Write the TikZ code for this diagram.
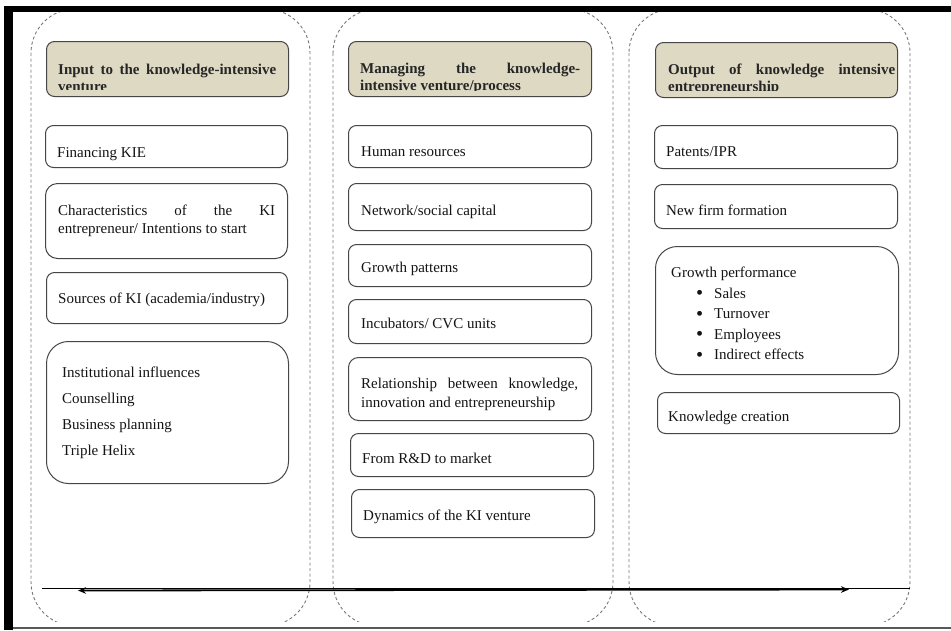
\documentclass[tikz,border=0pt]{standalone}
\usepackage{fontspec}
\setmainfont{Liberation Serif}
\usetikzlibrary{arrows.meta}
\definecolor{headtan}{RGB}{221,217,195}
\definecolor{boxline}{RGB}{70,70,70}
\definecolor{dashgray}{RGB}{120,120,120}
\newcommand{\blt}{\makebox[18pt][l]{\raisebox{-1.6pt}{\scalebox{1.35}{•}}}}
\tikzset{
  colframe/.style={draw=dashgray, line width=0.9pt, dash pattern=on 3pt off 2.5pt, rounded corners=44pt},
  box/.style={draw=boxline, line width=1pt, rounded corners=8pt, inner sep=0pt, anchor=north west},
  headbox/.style={box, fill=headtan},
  txt/.style={anchor=base west, inner sep=0pt, text=black!92, font=\fontsize{15}{18.5}\selectfont},
  headtxt/.style={txt, text=black!85, font=\bfseries\fontsize{15}{17.3}\selectfont},
}
\begin{document}
\begin{tikzpicture}[x=1pt, y=-1pt]
  \useasboundingbox (0,0) rectangle (951,630);
  \fill[white] (0,0) rectangle (951,630);

  % dashed column frames, open at top and bottom
  \begin{scope}
    \clip (0,12) rectangle (951,621);
    \draw[colframe] (31,9) rectangle (310,626);
    \draw[colframe] (333,9) rectangle (613,626);
    \draw[colframe] (629,9) rectangle (910,626);
  \end{scope}

  % ---------- column 1: inputs ----------
  \node[headbox, minimum width=242pt, minimum height=55pt] (h1) at (46,41) {};
  \begin{scope}
    \clip (47,42) rectangle (287,89);
    \node[headtxt] (h1t) at (58,74) {\vtop{\hbox{\makebox[218pt][s]{Input to the knowledge-intensive}}\hbox{venture}}};
  \end{scope}

  \node[box, minimum width=242pt, minimum height=42pt] (fin) at (45,125) {};
  \node[txt] (fint) at (57,157) {Financing KIE};

  \node[box, rounded corners=12pt, minimum width=242pt, minimum height=75pt] (chr) at (45,183) {};
  \node[txt] (chrt) at (58,215) {\vtop{\hbox{\makebox[217pt][s]{Characteristics of the KI}}\hbox{entrepreneur/ Intentions to start}}};

  \node[box, minimum width=241pt, minimum height=51pt] (src) at (46,272) {};
  \node[txt] (srct) at (58,303) {Sources of KI (academia/industry)};

  \node[box, rounded corners=22pt, minimum width=242pt, minimum height=142pt] (ins) at (46,341) {};
  \node[txt, font=\fontsize{15}{26.3}\selectfont] (inst) at (62,377)
    {\vtop{\hbox{Institutional influences}\hbox{Counselling}\hbox{Business planning}\hbox{Triple Helix}}};

  % ---------- column 2: managing ----------
  \node[headbox, minimum width=243pt, minimum height=55pt] (h2) at (348,41) {};
  \begin{scope}
    \clip (349,42) rectangle (590,90);
    \node[headtxt] (h2t) at (360,73) {\vtop{\hbox{\makebox[220pt][s]{Managing the knowledge-}}\hbox{intensive venture/process}}};
  \end{scope}

  \node[box, minimum width=243pt, minimum height=42pt] (hr) at (348,125) {};
  \node[txt] (hrt) at (361,156) {Human resources};

  \node[box, minimum width=243pt, minimum height=47pt] (net) at (348,183) {};
  \node[txt] (nett) at (361,215) {Network/social capital};

  \node[box, minimum width=243pt, minimum height=42pt] (gp) at (348,244) {};
  \node[txt] (gpt) at (361,272) {Growth patterns};

  \node[box, minimum width=243pt, minimum height=44pt] (inc) at (348,299) {};
  \node[txt] (inct) at (361,328) {Incubators/ CVC units};

  \node[box, rounded corners=10pt, minimum width=243pt, minimum height=63pt] (rel) at (348,357) {};
  \node[txt, font=\fontsize{15}{19.5}\selectfont] (relt) at (361,388)
    {\vtop{\hbox{\makebox[217pt][s]{Relationship between knowledge,}}\hbox{innovation and entrepreneurship}}};

  \node[box, minimum width=243pt, minimum height=43pt] (rd) at (350,433) {};
  \node[txt] (rdt) at (362,463) {From R\&D to market};

  \node[box, minimum width=243pt, minimum height=48pt] (dyn) at (351,489) {};
  \node[txt] (dynt) at (363,520) {Dynamics of the KI venture};

  % ---------- column 3: outputs ----------
  \node[headbox, minimum width=242pt, minimum height=55pt] (h3) at (655,42) {};
  \begin{scope}
    \clip (656,43) rectangle (896,90.5);
    \node[headtxt] (h3t) at (668,74) {\vtop{\hbox{\makebox[227pt][s]{Output of knowledge intensive}}\hbox{entrepreneurship}}};
  \end{scope}

  \node[box, minimum width=243pt, minimum height=43pt] (pat) at (654,125) {};
  \node[txt] (patt) at (666,156) {Patents/IPR};

  \node[box, minimum width=243pt, minimum height=44pt] (nff) at (654,184) {};
  \node[txt] (nfft) at (666,215) {New firm formation};

  \node[box, rounded corners=22pt, minimum width=243pt, minimum height=128pt] (gpf) at (655,246) {};
  \node[txt] (gpft) at (671,277) {Growth performance};
  \node[txt, font=\fontsize{15}{20.6}\selectfont] (gpfl) at (696,298)
    {\vtop{\hbox{\blt Sales}\hbox{\blt Turnover}\hbox{\blt Employees}\hbox{\blt Indirect effects}}};

  \node[box, minimum width=242pt, minimum height=41pt] (kc) at (657,392) {};
  \node[txt] (kct) at (668,421) {Knowledge creation};

  % ---------- time axis ----------
  \coordinate (axL) at (42,588);
  \coordinate (axR) at (910,588);
  \draw[black, line width=0.8pt] (axL) -- (axR);
  \coordinate (arL) at (78,590.5);
  \coordinate (arR) at (849,589.5);
  \draw[black, line width=1.8pt, {Stealth[length=8pt,width=6.5pt]}-{Stealth[length=8pt,width=6.5pt]}] (arL) -- (arR);

  % ---------- page frame ----------
  \fill[black] (4,6) rectangle (951,12);
  \fill[black] (4,6) rectangle (13,630);
  \draw[black!65, line width=1.2pt] (13,628) -- (951,628);
\end{tikzpicture}
\end{document}
